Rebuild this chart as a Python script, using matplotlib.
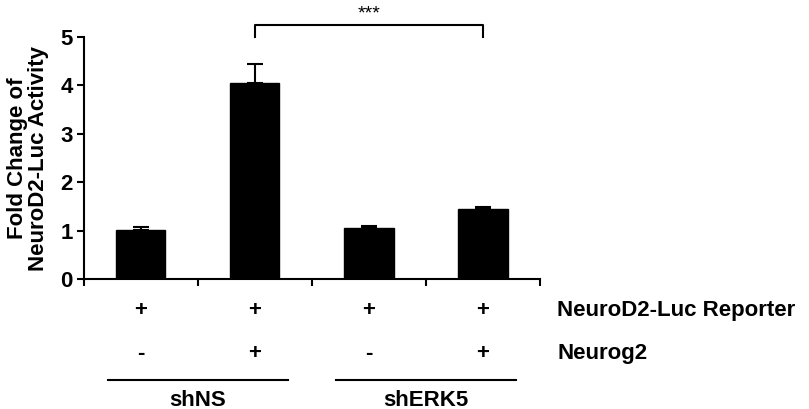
import matplotlib.pyplot as plt

plt.rcParams['font.family'] = ['Liberation Sans', 'DejaVu Sans']
plt.rcParams['font.weight'] = 'bold'

# data
means = [1.01, 4.05, 1.05, 1.45]
errs = [0.06, 0.39, 0.04, 0.04]
reporter = ['+', '+', '+', '+']
neurog2 = ['-', '+', '-', '+']
groups = ['shNS', 'shERK5']
row_names = ['NeuroD2-Luc Reporter', 'Neurog2']

fig = plt.figure(figsize=(8.09, 4.09), dpi=100)
ax = fig.add_axes([0.1038, 0.3178, 0.5637, 0.5917])

x = list(range(len(means)))
ax.bar(x, means, width=0.43, color='black', edgecolor='black')
ax.errorbar(x, means, yerr=[[0] * 4, errs], fmt='none', ecolor='black',
            elinewidth=1.5, capsize=6, capthick=1.5)

ax.set_xlim(-0.5, 3.5)
ax.set_ylim(0, 5)
ax.set_xticks([-0.5, 0.5, 1.5, 2.5, 3.5])
ax.set_xticklabels([])
ax.set_yticks([0, 1, 2, 3, 4, 5])
ax.tick_params(axis='both', direction='out', length=5, width=1.5,
               labelsize=16, pad=3)
for s in ['top', 'right']:
    ax.spines[s].set_visible(False)
for s in ['left', 'bottom']:
    ax.spines[s].set_linewidth(1.5)

ax.set_ylabel('Fold Change of\nNeuroD2-Luc Activity', fontsize=16,
              fontweight='bold', linespacing=1.05, labelpad=8)

# significance bracket
ax.plot([1, 1, 3, 3], [5.0, 5.25, 5.25, 5.0], color='black', lw=1.5,
        clip_on=False)
ax.text(2, 5.31, '***', ha='center', va='bottom', fontsize=14,
        fontweight='normal')

# condition table below the axis
tr = ax.get_xaxis_transform()
for i in x:
    ax.text(i, -0.132, reporter[i], transform=tr, ha='center', va='center',
            fontsize=16)
    ax.text(i, -0.306, neurog2[i], transform=tr, ha='center', va='center',
            fontsize=16)
ax.text(3.65, -0.132, row_names[0], transform=tr, ha='left', va='center',
        fontsize=16)
ax.text(3.65, -0.306, row_names[1], transform=tr, ha='left', va='center',
        fontsize=16)

for c, g in zip([0.5, 2.5], groups):
    ax.plot([c - 0.79, c + 0.79], [-0.417, -0.417], transform=tr,
            color='black', lw=1.5, clip_on=False)
    ax.text(c, -0.5, g, transform=tr, ha='center', va='center', fontsize=16)

fig.savefig('out.png', dpi=100)
